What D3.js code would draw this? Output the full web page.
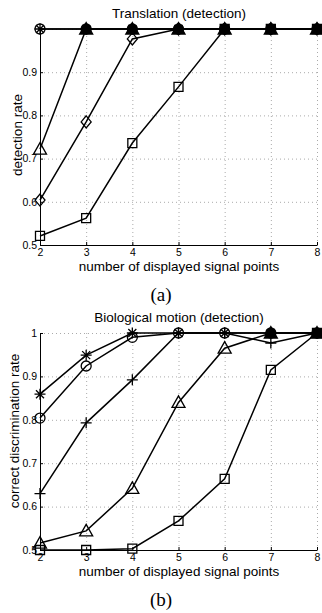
<!DOCTYPE html>
<html>
<head>
<meta charset="utf-8">
<script src="https://cdn.jsdelivr.net/npm/d3@7"></script>
<style>
  body { margin: 0; background: #fff; }
  svg { display: block; }
  text { font-family: "Liberation Sans", Arial, sans-serif; fill: #000; }
  .grid line { stroke: #aaa; stroke-dasharray: 1,3; }
  .grid path { display: none; }
  .axis path, .axis line { stroke: #000; }
</style>
</head>
<body>
<div id="chart"></div>
<script>
// x values: number of displayed signal points
const signalPoints = [2, 3, 4, 5, 6, 7, 8];

// (a) Translation (detection)
const transStar     = [1, 1, 1, 1, 1, 1, 1];
const transCircle   = [1, 1, 1, 1, 1, 1, 1];
const transTriangle = [0.722, 1, 1, 1, 1, 1, 1];
const transDiamond  = [0.604, 0.785, 0.977, 1, 1, 1, 1];
const transSquare   = [0.521, 0.562, 0.736, 0.866, 1, 1, 1];

// (b) Biological motion (detection)
const bioStar     = [0.859, 0.949, 1, 1, 1, 1, 1];
const bioCircle   = [0.804, 0.924, 0.99, 1, 1, 1, 1];
const bioPlus     = [0.63, 0.793, 0.892, 1, 1, 0.977, 1];
const bioTriangle = [0.516, 0.544, 0.642, 0.84, 0.965, 1, 1];
const bioSquare   = [0.5, 0.5, 0.503, 0.567, 0.664, 0.915, 1];

const yTicksA = [0.5, 0.6, 0.7, 0.8, 0.9];
const yTicksB = [0.5, 0.6, 0.7, 0.8, 0.9, 1];

const W = 322, H = 613;
const svg = d3.select('#chart').append('svg')
    .attr('width', W)
    .attr('height', H);

// marker path centred on 0,0
function marker(type) {
    const p = d3.path();
    if (type === 'circle') {
        p.arc(0, 0, 5, 0, 2 * Math.PI);
    } else if (type === 'square') {
        p.rect(-4.5, -4.5, 9, 9);
    } else if (type === 'diamond') {
        p.moveTo(0, -6); p.lineTo(5, 0); p.lineTo(0, 6); p.lineTo(-5, 0); p.closePath();
    } else if (type === 'triangle') {
        p.moveTo(0, -6.5); p.lineTo(6.5, 5); p.lineTo(-6.5, 5); p.closePath();
    } else if (type === 'plus') {
        p.moveTo(-5.5, 0); p.lineTo(5.5, 0); p.moveTo(0, -5.5); p.lineTo(0, 5.5);
    } else if (type === 'star') {
        p.moveTo(-5.5, 0); p.lineTo(5.5, 0); p.moveTo(0, -5.5); p.lineTo(0, 5.5);
        p.moveTo(-4, -4); p.lineTo(4, 4); p.moveTo(-4, 4); p.lineTo(4, -4);
    }
    return p.toString();
}

function drawPanel(opt) {
    const x = d3.scaleLinear().domain([2, 8]).range([40, 317]);
    const y = d3.scaleLinear().domain([0.5, 1]).range([opt.bottom, opt.top]);
    const g = svg.append('g');
    const font = a => a.selectAll('text')
        .attr('font-size', 10.5)
        .attr('font-family', '"Liberation Sans", Arial, sans-serif');

    // dotted grid
    g.append('g')
        .attr('class', 'grid')
        .attr('transform', `translate(0,${opt.bottom})`)
        .call(d3.axisBottom(x).tickValues(signalPoints).tickSize(-(opt.bottom - opt.top)).tickFormat(''));
    g.append('g')
        .attr('class', 'grid')
        .attr('transform', 'translate(40,0)')
        .call(d3.axisLeft(y).tickValues(yTicksB).tickSize(-(317 - 40)).tickFormat(''));

    // axes
    g.append('g')
        .attr('class', 'axis')
        .attr('transform', `translate(0,${opt.bottom})`)
        .call(d3.axisBottom(x).tickValues(signalPoints).tickSizeInner(-3).tickSizeOuter(0).tickPadding(4)
            .tickFormat(d3.format('d')))
        .call(font);
    g.append('g')
        .attr('class', 'axis')
        .attr('transform', 'translate(40,0)')
        .call(d3.axisLeft(y).tickValues(opt.yTicks).tickSizeInner(-3).tickSizeOuter(0).tickPadding(3)
            .tickFormat(d => d === 1 ? '1' : d3.format('.1f')(d)))
        .call(font);

    const line = d3.line()
        .x((d, i) => x(signalPoints[i]))
        .y(d => y(d));

    // columns where several markers pile up at 1.0 print as a solid blob
    const blob = signalPoints.map((p, i) => opt.series.some(s =>
        ['triangle', 'diamond', 'square'].includes(s.marker) && s.values[i] === 1));

    opt.series.forEach(s => {
        g.append('path')
            .datum(s.values)
            .attr('d', line)
            .attr('fill', 'none')
            .attr('stroke', '#000')
            .attr('stroke-width', 1.5);
        g.selectAll(null)
            .data(s.values)
            .enter().append('path')
            .attr('d', marker(s.marker))
            .attr('transform', (d, i) => `translate(${x(signalPoints[i])},${y(d)})`)
            .attr('fill', (d, i) => (d === 1 && blob[i] && s.marker !== 'plus' && s.marker !== 'star') ? '#000' : 'none')
            .attr('stroke', '#000')
            .attr('stroke-width', 1.3);
    });

    // titles and labels
    g.append('text')
        .attr('x', 179).attr('y', opt.top - 11)
        .attr('text-anchor', 'middle')
        .attr('font-size', 13.5)
        .text(opt.title);
    g.append('text')
        .attr('x', 179).attr('y', opt.bottom + 26)
        .attr('text-anchor', 'middle')
        .attr('font-size', 13.5)
        .text('number of displayed signal points');
    g.append('text')
        .attr('transform', `translate(${opt.ylabelX},${opt.ylabelY}) rotate(-90)`)
        .attr('text-anchor', 'middle')
        .attr('font-size', 13.5)
        .text(opt.ylabel);
    g.append('text')
        .attr('x', 161).attr('y', opt.bottom + 56)
        .attr('text-anchor', 'middle')
        .attr('font-size', 19)
        .style('font-family', '"Liberation Serif", "Times New Roman", serif')
        .text(opt.tag);
}

drawPanel({
    top: 29, bottom: 245,
    title: 'Translation (detection)',
    ylabel: 'detection rate',
    ylabelX: 22, ylabelY: 135,
    tag: '(a)',
    yTicks: yTicksA,
    series: [
        { values: transSquare, marker: 'square' },
        { values: transDiamond, marker: 'diamond' },
        { values: transTriangle, marker: 'triangle' },
        { values: transCircle, marker: 'circle' },
        { values: transStar, marker: 'star' }
    ]
});

drawPanel({
    top: 333, bottom: 550,
    title: 'Biological motion (detection)',
    ylabel: 'correct discrimination rate',
    ylabelX: 19, ylabelY: 431,
    tag: '(b)',
    yTicks: yTicksB,
    series: [
        { values: bioSquare, marker: 'square' },
        { values: bioTriangle, marker: 'triangle' },
        { values: bioPlus, marker: 'plus' },
        { values: bioCircle, marker: 'circle' },
        { values: bioStar, marker: 'star' }
    ]
});
</script>
</body>
</html>
